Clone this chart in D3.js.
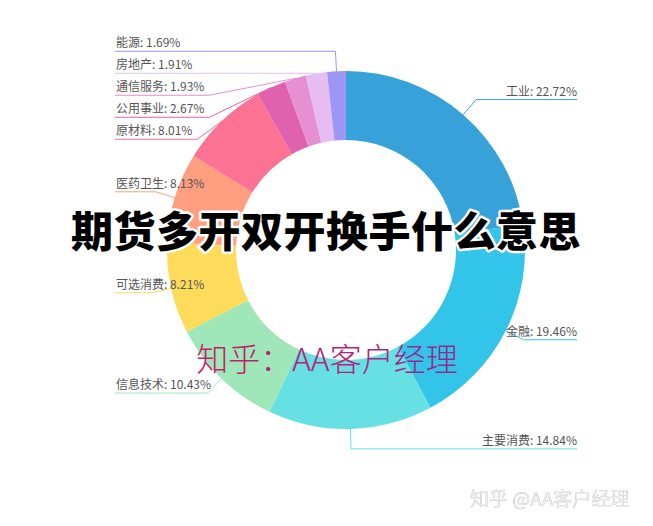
<!DOCTYPE html>
<html><head><meta charset="utf-8">
<script src="https://cdn.jsdelivr.net/npm/d3@7"></script>
<style>body{margin:0;background:#fff;} svg{display:block;}</style>
</head><body>
<svg id="c" width="653" height="526"></svg>
<script>
const categories = ["工业","金融","主要消费","信息技术","可选消费","医药卫生","原材料","公用事业","通信服务","房地产","能源"];
const values = [22.72,19.46,14.84,10.43,8.21,8.13,8.01,2.67,1.93,1.91,1.69];
const colors = ["#37a2da","#32c5e9","#67e0e3","#9fe6b8","#ffdb5c","#ff9f7f","#fb7293","#e062ae","#e690d1","#e7bcf3","#9d96f5"];
const titleText = "期货多开双开换手什么意思";
const overlayText = "知乎：AA客户经理";
const watermarkText = "知乎 @AA客户经理";

const W = 653, H = 526, cx = 346, cy = 250, r0 = 110, r1 = 179, len1 = 20;
const leftEdge = 116, rightEdge = 577, gap = 22, maxSurf = 80 * Math.PI / 180;
const font = "'Noto Sans CJK SC','Microsoft YaHei',sans-serif";
const svg = d3.select("#c");

const data = categories.map((c, i) => ({name: c, v: values[i], color: colors[i]}));
const arcs = d3.pie().sort(null).value(d => d.v)(data);
const arc = d3.arc().innerRadius(r0).outerRadius(r1);
svg.append("g").attr("transform", `translate(${cx},${cy})`)
  .selectAll("path").data(arcs).join("path")
  .attr("d", arc).attr("fill", d => d.data.color);

const R2 = r1 + len1;
const fmt = d3.format(".2f");
const items = arcs.map(a => {
  const m = (a.startAngle + a.endAngle) / 2;
  const s = Math.sin(m), c = -Math.cos(m);
  return {a, n: [s, c], p0: [cx + r1 * s, cy + r1 * c], p1x: cx + R2 * s, y: cy + R2 * c,
          left: s < 0, color: a.data.color, text: a.data.name + ": " + fmt(a.data.v) + "%"};
});
[true, false].forEach(side => {
  const list = items.filter(d => d.left === side).sort((a, b) => a.y - b.y);
  for (let i = 1; i < list.length; i++) {
    if (list[i].y < list[i - 1].y + gap) list[i].y = list[i - 1].y + gap;
  }
});

const lineG = svg.append("g");
const textG = svg.append("g");
items.forEach(d => {
  const t = textG.append("text")
    .attr("x", d.left ? leftEdge : rightEdge)
    .attr("y", d.y - 4)
    .attr("text-anchor", d.left ? "start" : "end")
    .attr("font-family", font).attr("font-size", 12).attr("fill", "#555")
    .text(d.text);
  const w = t.node().getComputedTextLength();
  const p2x = d.left ? leftEdge + w + 5 : rightEdge - w - 5;
  const p0 = d.p0, p1 = [d.p1x, d.y], p2 = [p2x, d.y];
  const ang = q => {
    const vx = q[0] - p0[0], vy = q[1] - p0[1], L = Math.hypot(vx, vy) || 1e-6;
    return Math.acos(Math.max(-1, Math.min(1, (vx * d.n[0] + vy * d.n[1]) / L)));
  };
  let q = p1;
  if (ang(p1) > maxSurf) {
    if (ang(p2) > maxSurf) q = p2;
    else {
      let lo = 0, hi = 1;
      for (let k = 0; k < 40; k++) {
        const mid = (lo + hi) / 2;
        const pt = [p1[0] + (p2[0] - p1[0]) * mid, p1[1]];
        if (ang(pt) > maxSurf) lo = mid; else hi = mid;
      }
      q = [p1[0] + (p2[0] - p1[0]) * hi, p1[1]];
    }
  }
  const end = [d.left ? leftEdge - 1 : rightEdge, d.y];
  lineG.append("path")
    .attr("d", d3.line()([p0, q, end]))
    .attr("fill", "none").attr("stroke", d.color).attr("stroke-width", 1);
});

// overlay title
svg.append("text")
  .attr("x", 326).attr("y", 228)
  .attr("text-anchor", "middle").attr("dominant-baseline", "central")
  .attr("font-family", font).attr("font-size", 42).attr("font-weight", 900)
  .attr("letter-spacing", 0.5)
  .attr("fill", "#000").attr("stroke", "#fff").attr("stroke-width", 5)
  .attr("stroke-linejoin", "round").style("paint-order", "stroke")
  .text(titleText);

const defs = svg.append("defs");
const grad = defs.append("linearGradient").attr("id", "pg").attr("x1", "0%").attr("x2", "100%");
grad.append("stop").attr("offset", "0%").attr("stop-color", "#c21f63");
grad.append("stop").attr("offset", "55%").attr("stop-color", "#b5207a");
grad.append("stop").attr("offset", "100%").attr("stop-color", "#8e2a92");
svg.append("text")
  .attr("x", 327).attr("y", 357)
  .attr("text-anchor", "middle").attr("dominant-baseline", "central")
  .attr("font-family", font).attr("font-size", 32).attr("font-weight", 300)
  .attr("fill", "url(#pg)")
  .text(overlayText);

svg.append("text")
  .attr("x", 470).attr("y", 497)
  .attr("dominant-baseline", "central")
  .attr("font-family", font).attr("font-size", 19)
  .attr("fill", "#eeeeee")
  .style("filter", "drop-shadow(0.6px 0.8px 0.6px rgba(0,0,0,0.45))")
  .text(watermarkText);
</script>
</body></html>
